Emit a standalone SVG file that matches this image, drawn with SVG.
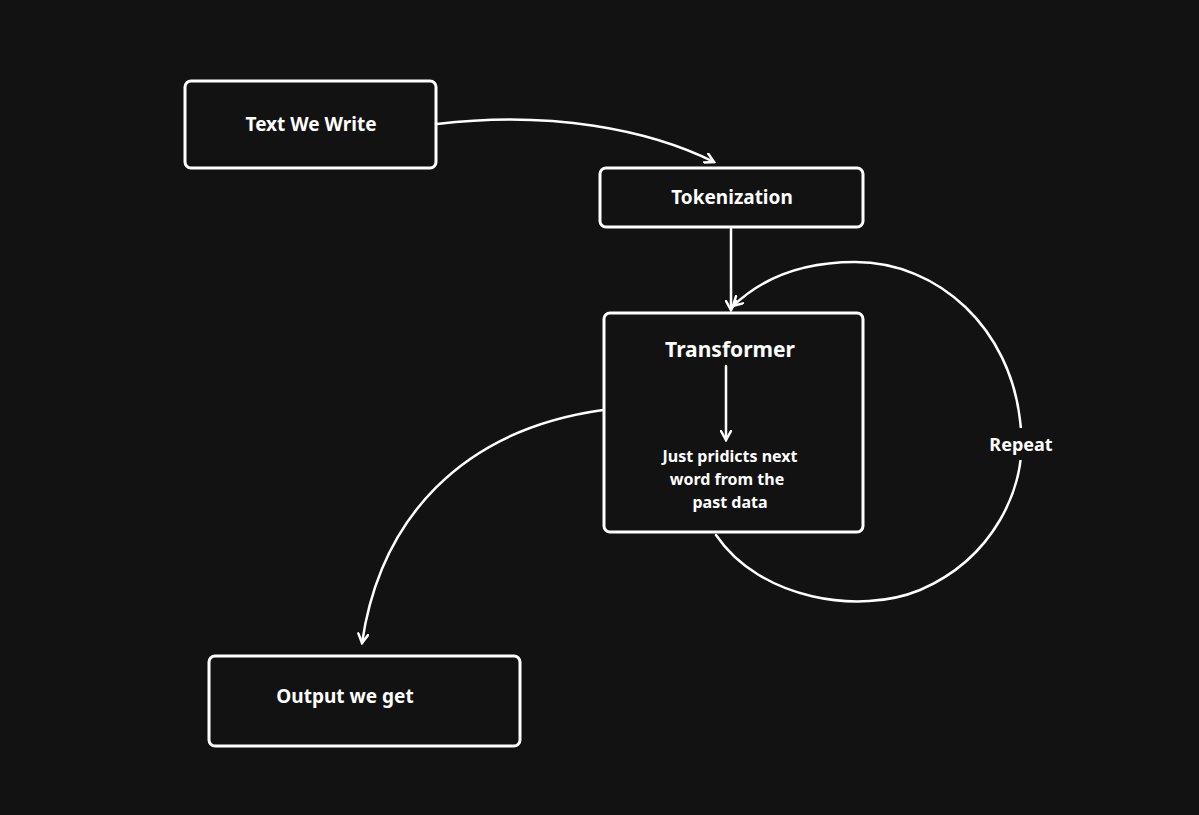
<svg xmlns="http://www.w3.org/2000/svg" width="1199" height="815" viewBox="0 0 1199 815">
<style>
.box{fill:none;stroke:#fff;stroke-width:3}
.ln{fill:none;stroke:#fff;stroke-width:2.5;stroke-linecap:round}
text{fill:#fff;font-family:"Comic Sans MS","Noto Sans",sans-serif;font-weight:bold;text-anchor:middle}
</style>
<defs><marker id="a" viewBox="0 0 12 12" refX="10" refY="6" markerWidth="12" markerHeight="12" markerUnits="userSpaceOnUse" orient="auto"><path d="M1 1L10 6L1 11" fill="none" stroke="#fff" stroke-width="2.5" stroke-linecap="round"/></marker></defs>
<rect width="1199" height="815" fill="#121212"/>
<g id="n1"><rect class="box" x="185" y="81" width="251" height="87" rx="6"/><text x="311" y="131" font-size="19">Text We Write</text></g>
<g id="n2"><rect class="box" x="600" y="168" width="263" height="59" rx="6"/><text x="732" y="204" font-size="19">Tokenization</text></g>
<g id="n3"><rect class="box" x="604" y="313" width="259" height="219" rx="6"/><text x="730" y="357" font-size="21">Transformer</text>
<text x="730" y="462" font-size="16">Just pridicts next</text><text x="727" y="485" font-size="16">word from the</text><text x="730" y="508" font-size="16">past data</text></g>
<g id="n4"><rect class="box" x="209" y="656" width="311" height="90" rx="6"/><text x="345" y="703" font-size="19">Output we get</text></g>
<g id="edges">
<path class="ln" marker-end="url(#a)" d="M437 124C550 110 650 130 714 162"/>
<path class="ln" marker-end="url(#a)" d="M731 229L731 310"/>
<path class="ln" marker-end="url(#a)" d="M726 366L726 440"/>
<path class="ln" marker-end="url(#a)" d="M603 410C460 430 380 520 362 643"/>
<path class="ln" marker-end="url(#a)" d="M716 535C760 600 860 615 920 590C990 560 1030 490 1020 420C1010 330 940 262 855 262C800 262 760 280 733 306"/>
<rect x="982" y="428" width="76" height="32" fill="#121212"/>
<text x="1021" y="451" font-size="18">Repeat</text>
</g>
</svg>
